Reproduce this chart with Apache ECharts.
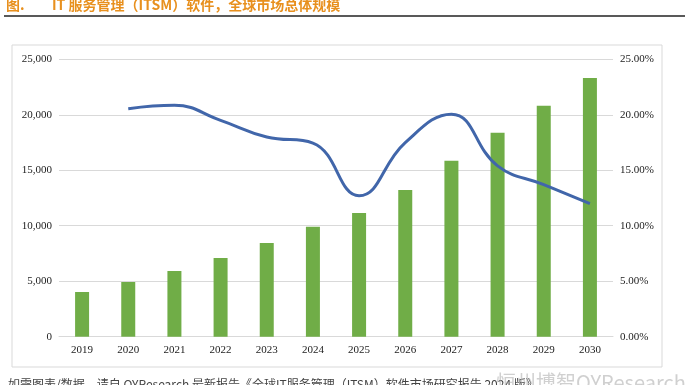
<!DOCTYPE html>
<html>
<head>
<meta charset="utf-8">
<script src="https://cdn.jsdelivr.net/npm/echarts@6/dist/echarts.min.js"></script>
<style>
html,body{margin:0;padding:0;background:#fff;}
#c{width:685px;height:385px;}
</style>
</head>
<body>
<div id="c"></div>
<script>
var years = ['2019','2020','2021','2022','2023','2024','2025','2026','2027','2028','2029','2030'];
var marketSize = [4030, 4930, 5920, 7090, 8440, 9910, 11150, 13220, 15860, 18380, 20820, 23320];
var growthPct = ['-', 20.55, 20.85, 19.5, 18.0, 17.45, 12.7, 17.5, 20.05, 15.4, 13.7, 12.0];
var leftTicks = {min: 0, max: 25000, interval: 5000};
var rightTicks = {min: 0, max: 25, interval: 5};
var titleLead = '图.';
var titleText = 'IT 服务管理（ITSM）软件，全球市场总体规模';
var footerText = '如需图表/数据，请自 QYResearch 最新报告《全球IT服务管理（ITSM）软件市场研究报告 2024 版》';
var brandText = '恒州博智QYResearch';

var chart = echarts.init(document.getElementById('c'), null, {renderer: 'canvas'});
var serif = '"Liberation Serif", "Times New Roman", serif';
chart.setOption({
  animation: false,
  backgroundColor: '#fff',
  graphic: [
    {type: 'text', left: 6, top: -2, style: {text: titleLead, fill: '#e8901e', font: 'bold 14px "Noto Sans CJK SC", sans-serif'}},
    {type: 'text', left: 52, top: -2, style: {text: titleText, fill: '#e8901e', font: 'bold 14px "Noto Sans CJK SC", sans-serif'}},
    {type: 'line', shape: {x1: 4, y1: 16, x2: 685, y2: 16}, style: {stroke: '#222', lineWidth: 1.5}},
    {type: 'rect', shape: {x: 12, y: 45, width: 650, height: 322}, style: {fill: 'none', stroke: '#d9d9d9', lineWidth: 1}},
    {type: 'text', left: 8, top: 378, style: {text: footerText, fill: '#444', font: '12px "Noto Sans CJK SC", sans-serif'}},
    {type: 'text', left: 496, top: 372, style: {text: brandText, fill: 'rgba(170,170,170,0.55)', font: '20px "Noto Sans CJK SC", sans-serif'}}
  ],
  grid: {left: 59, right: 72, top: 59.3, bottom: 48.3, containLabel: false},
  xAxis: {
    type: 'category',
    data: years,
    axisLine: {show: true, lineStyle: {color: '#d9d9d9'}},
    axisTick: {show: false},
    axisLabel: {color: '#222', fontFamily: serif, fontSize: 11, margin: 8}
  },
  yAxis: [
    {
      type: 'value', min: leftTicks.min, max: leftTicks.max, interval: leftTicks.interval,
      axisLine: {show: false}, axisTick: {show: false},
      splitLine: {lineStyle: {color: '#d9d9d9'}},
      axisLabel: {color: '#222', fontFamily: serif, fontSize: 11, margin: 7,
        formatter: function (v) { return v.toLocaleString('en-US'); }}
    },
    {
      type: 'value', min: rightTicks.min, max: rightTicks.max, interval: rightTicks.interval,
      axisLine: {show: false}, axisTick: {show: false},
      splitLine: {show: false},
      axisLabel: {color: '#222', fontFamily: serif, fontSize: 11, margin: 7,
        formatter: function (v) { return v.toFixed(2) + '%'; }}
    }
  ],
  series: [
    {type: 'bar', data: marketSize, barWidth: 14, itemStyle: {color: '#70ad47'}, yAxisIndex: 0},
    {type: 'line', data: growthPct, yAxisIndex: 1, smooth: 0.45, showSymbol: false,
      lineStyle: {color: '#4166aa', width: 3}, itemStyle: {color: '#4166aa'}}
  ]
});
</script>
</body>
</html>
